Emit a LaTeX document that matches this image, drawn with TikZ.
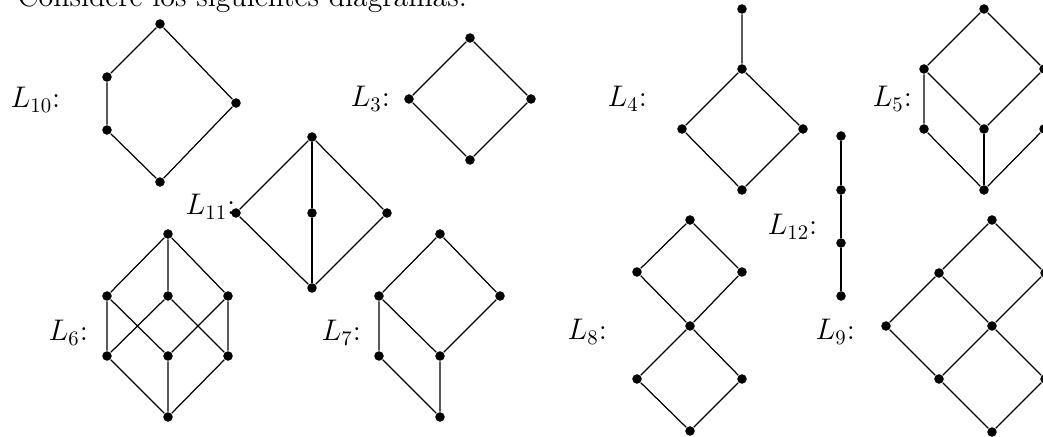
\documentclass[tikz,border=0pt]{standalone}
\begin{document}
\begin{tikzpicture}[x=0.483pt,y=-0.483pt,line width=0.6pt,
  dot/.style={circle,fill=black,inner sep=0pt,minimum size=4.6pt},
  lbl/.style={anchor=base west,inner sep=0pt,font=\Large}]
\useasboundingbox (0,0) rectangle (1043,437);
\clip (0,0) rectangle (1043,437);
\node[lbl] (title) at (17,7) {Considere los siguientes diagramas:};
% L10
\node[lbl] (l10) at (10,108) {$L_{10}$:};
\node[dot] (a1) at (160,24) {};
\node[dot] (a2) at (107,77) {};
\node[dot] (a3) at (107,130) {};
\node[dot] (a4) at (236,103) {};
\node[dot] (a5) at (160,182) {};
\draw (a1)--(a2)--(a3)--(a5)--(a4)--(a1);
% L11
\node[lbl] (l11) at (185,215) {$L_{11}$:};
\node[dot] (b1) at (312,137) {};
\node[dot] (b2) at (236,213) {};
\node[dot] (b3) at (312,213) {};
\node[dot] (b4) at (387,213) {};
\node[dot] (b5) at (312,288) {};
\draw (b1)--(b2)--(b5)--(b4)--(b1);
\draw (b1)--(b3)--(b5);
% L3
\node[lbl] (l3) at (350,107) {$L_{3}$:};
\node[dot] (c1) at (470,38) {};
\node[dot] (c2) at (409,99) {};
\node[dot] (c3) at (531,99) {};
\node[dot] (c4) at (470,160) {};
\draw (c1)--(c2)--(c4)--(c3)--(c1);
% L4
\node[lbl] (l4) at (607,107) {$L_{4}$:};
\node[dot] (d0) at (742,9) {};
\node[dot] (d1) at (742,69) {};
\node[dot] (d2) at (682,129) {};
\node[dot] (d3) at (803,129) {};
\node[dot] (d4) at (742,190) {};
\draw (d0)--(d1)--(d2)--(d4)--(d3)--(d1);
% L5
\node[lbl] (l5) at (872,107) {$L_{5}$:};
\node[dot] (e1) at (984,9) {};
\node[dot] (e2) at (924,69) {};
\node[dot] (e3) at (1044,69) {};
\node[dot] (e4) at (984,129) {};
\node[dot] (e5) at (924,129) {};
\node[dot] (e6) at (1044,129) {};
\node[dot] (e7) at (984,190) {};
\draw (e2)--(e1)--(e3)--(e4)--(e2)--(e5)--(e7)--(e6)--(e3);
\draw (e4)--(e7);
% L6
\node[lbl] (l6) at (48,341) {$L_{6}$:};
\node[dot] (f1) at (168,234) {};
\node[dot] (f2) at (107,296) {};
\node[dot] (f3) at (168,296) {};
\node[dot] (f4) at (228,296) {};
\node[dot] (f5) at (107,356) {};
\node[dot] (f6) at (168,356) {};
\node[dot] (f7) at (228,356) {};
\node[dot] (f8) at (168,417) {};
\draw (f1)--(f2) (f1)--(f3) (f1)--(f4);
\draw (f2)--(f5) (f2)--(f6) (f3)--(f5) (f3)--(f7) (f4)--(f6) (f4)--(f7);
\draw (f5)--(f8) (f6)--(f8) (f7)--(f8);
% L7
\node[lbl] (l7) at (321,341) {$L_{7}$:};
\node[dot] (g1) at (440,234) {};
\node[dot] (g2) at (379,296) {};
\node[dot] (g3) at (500,296) {};
\node[dot] (g4) at (440,356) {};
\node[dot] (g5) at (379,356) {};
\node[dot] (g6) at (440,417) {};
\draw (g1)--(g2)--(g4)--(g3)--(g1);
\draw (g2)--(g5)--(g6)--(g4);
% L8
\node[lbl] (l8) at (567,340) {$L_{8}$:};
\node[dot] (h1) at (690,220) {};
\node[dot] (h2) at (637,272) {};
\node[dot] (h3) at (742,272) {};
\node[dot] (h4) at (690,326) {};
\node[dot] (h5) at (637,379) {};
\node[dot] (h6) at (742,379) {};
\node[dot] (h7) at (690,431) {};
\draw (h1)--(h2)--(h4)--(h3)--(h1);
\draw (h4)--(h5)--(h7)--(h6)--(h4);
% L12
\node[lbl] (l12) at (767,235) {$L_{12}$:};
\node[dot] (k1) at (841,136) {};
\node[dot] (k2) at (841,190) {};
\node[dot] (k3) at (841,243) {};
\node[dot] (k4) at (841,296) {};
\draw (k1)--(k2)--(k3)--(k4);
% L9
\node[lbl] (l9) at (815,340) {$L_{9}$:};
\node[dot] (m1) at (992,220) {};
\node[dot] (m2) at (939,273) {};
\node[dot] (m3) at (1045,273) {};
\node[dot] (m4) at (886,326) {};
\node[dot] (m5) at (992,326) {};
\node[dot] (m6) at (1098,326) {};
\node[dot] (m7) at (939,379) {};
\node[dot] (m8) at (1045,379) {};
\node[dot] (m9) at (992,432) {};
\draw (m1)--(m2)--(m4)--(m7)--(m9)--(m8)--(m6)--(m3)--(m1);
\draw (m2)--(m5)--(m8) (m3)--(m5)--(m7);
\end{tikzpicture}
\end{document}
